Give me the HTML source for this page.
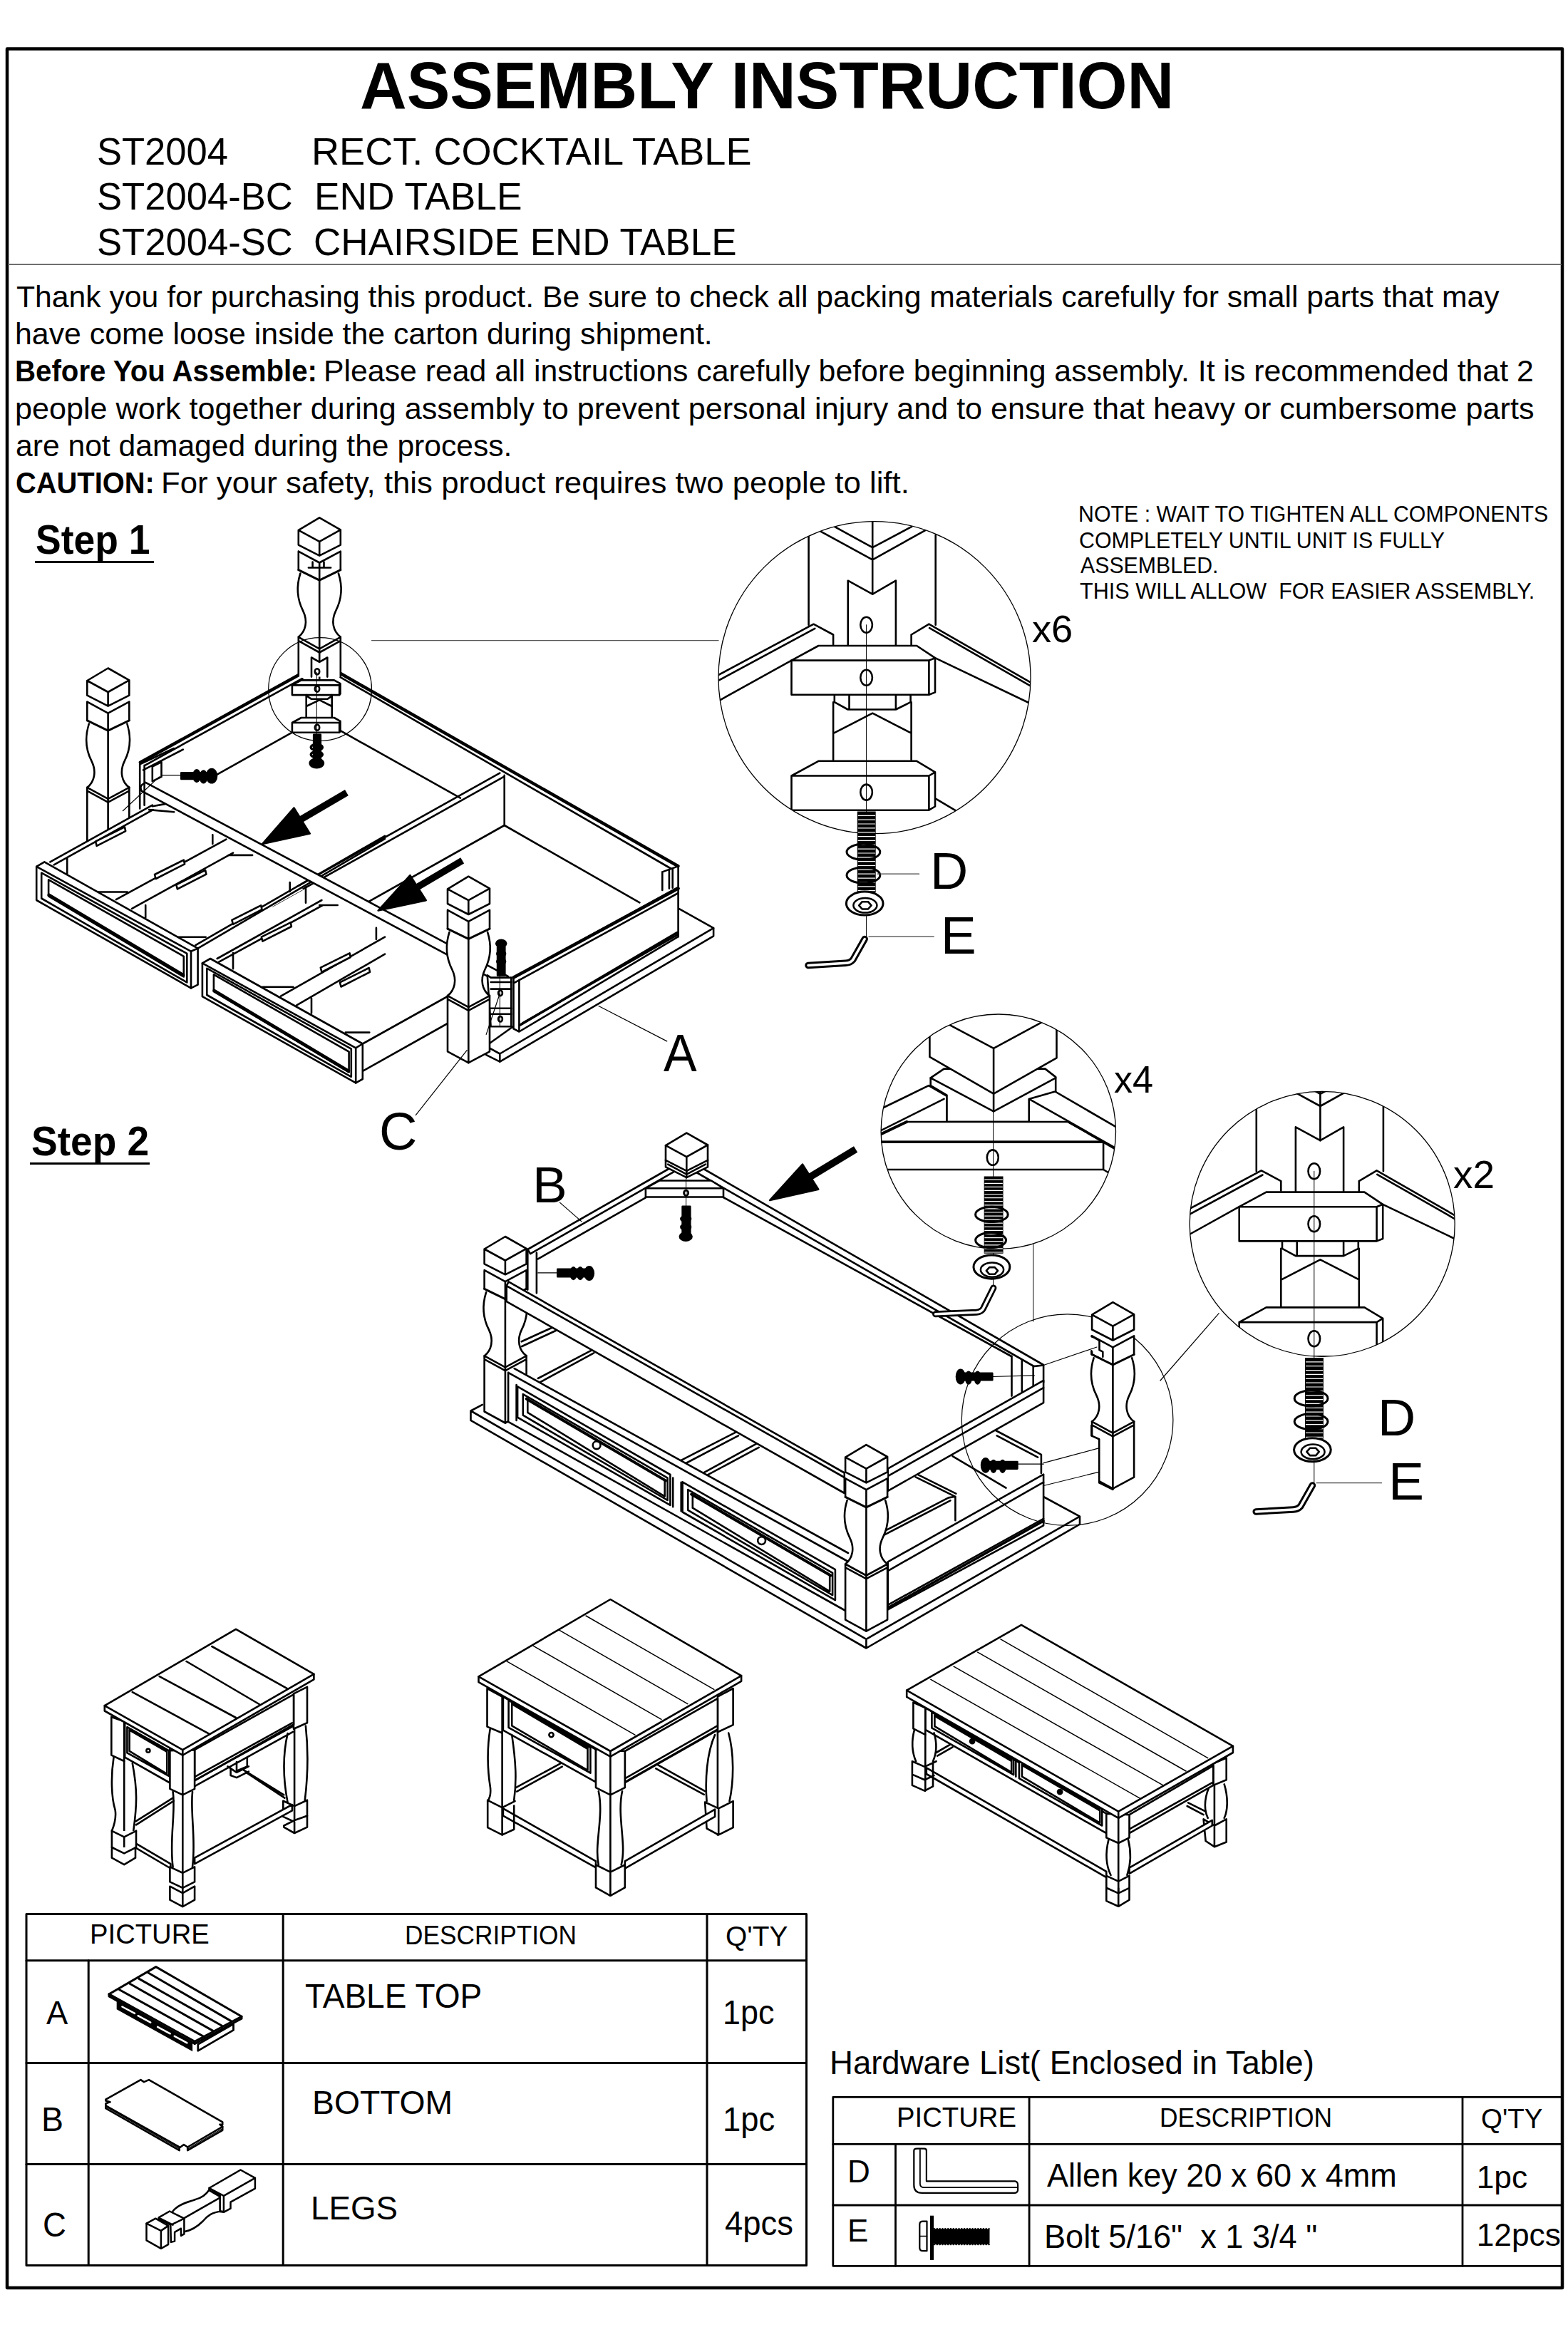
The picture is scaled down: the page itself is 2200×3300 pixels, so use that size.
<!DOCTYPE html>
<html><head><meta charset="utf-8"><style>
html,body{margin:0;padding:0;background:#fff;width:2200px;height:3300px;overflow:hidden}
.t{position:absolute;white-space:pre;font-family:"Liberation Sans",sans-serif;color:#000;transform-origin:0 0}
svg{position:absolute;left:0;top:0}
svg *{vector-effect:non-scaling-stroke}
</style></head><body>
<svg width="2200" height="3300" viewBox="0 0 2200 3300" fill="none" stroke="#000" stroke-linejoin="round" stroke-linecap="round">
<rect x="10" y="68.5" width="2182" height="3141.5" fill="none" stroke="#000" stroke-width="4.5"/>
<line x1="12" y1="371" x2="2190" y2="371" stroke="#6e6e6e" stroke-width="2"/>
<rect x="37" y="2685.5" width="1094.5" height="493.0" fill="none" stroke="#000" stroke-width="3"/>
<line x1="37" y1="2750.7" x2="1131.5" y2="2750.7" stroke="#000" stroke-width="3"/>
<line x1="37" y1="2894.5" x2="1131.5" y2="2894.5" stroke="#000" stroke-width="3"/>
<line x1="37" y1="3036.6" x2="1131.5" y2="3036.6" stroke="#000" stroke-width="3"/>
<line x1="124.2" y1="2750.7" x2="124.2" y2="3178.5" stroke="#000" stroke-width="3"/>
<line x1="397.2" y1="2685.5" x2="397.2" y2="3178.5" stroke="#000" stroke-width="3"/>
<line x1="992" y1="2685.5" x2="992" y2="3178.5" stroke="#000" stroke-width="3"/>
<rect x="1168.8" y="2942.4" width="1023.2" height="236.9000000000001" fill="none" stroke="#000" stroke-width="2.8"/>
<line x1="1168.8" y1="3008.4" x2="2192" y2="3008.4" stroke="#000" stroke-width="2.8"/>
<line x1="1168.8" y1="3094.0" x2="2192" y2="3094.0" stroke="#000" stroke-width="2.8"/>
<line x1="1256.5" y1="3008.4" x2="1256.5" y2="3179.3" stroke="#000" stroke-width="2.8"/>
<line x1="1444.1" y1="2942.4" x2="1444.1" y2="3179.3" stroke="#000" stroke-width="2.8"/>
<line x1="2052" y1="2942.4" x2="2052" y2="3179.3" stroke="#000" stroke-width="2.8"/>
<g stroke-width="2.6">
<clipPath id="c1"><circle cx="1227" cy="950.7" r="219"/></clipPath>
<g clip-path="url(#c1)">
<path d="M1134.6,752.7 V876.7 M1312.7,751.0 V876.7 M1224.2,732.1 V833.6 M1151.9,745.8 L1224.2,785.4 L1298.2,744.1 M1170.8,738.9 L1224.2,768.2 L1279.3,738.9" />
<path d="M1189.7,906.0 V814.7 L1224.2,833.6 L1256.9,814.7 V906.0" />
<path d="M921.1,993.4 L1141.5,875.7 L1169.1,890.5 V904.2 M921.1,1001.7 L1143.3,881.9 M921.1,1031.7 L1110.5,926.6 M1303.4,875.7 L1541.0,1012.0 M1304.1,881.2 L1541.0,1016.9 M1278.6,890.5 L1303.4,875.7 M1278.6,890.5 V906.0 M1312.0,923.2 L1541.0,1032.7" />
<path d="M1110.5,926.6 H1303.4 V974.8 H1110.5 Z M1110.5,926.6 L1148.4,906.0 H1286.2 L1312.0,923.2 L1303.4,926.6 M1312.0,923.2 V971.4 L1303.4,974.8" fill="#fff"/>
<path d="M1170.8,976.6 V985.2 L1189.7,995.5 H1256.9 L1277.6,985.2 V976.6 M1191.5,976.6 V995.5 M1256.9,976.6 V995.5" />
<path d="M1169.1,985.2 V1066.1 M1278.6,985.2 V1066.1 M1170.8,1028.2 L1224.2,1000.7 L1277.6,1028.2" />
<path d="M1110.5,1088.5 H1303.4 V1136.7 H1110.5 Z M1110.5,1088.5 L1148.4,1067.8 H1286.2 L1312.0,1083.3 L1303.4,1088.5 M1312.0,1083.3 V1131.5 L1303.4,1136.7 M1313.7,1121.2 L1368.8,1153.9" fill="#fff"/>
<ellipse cx="1215.6" cy="876.7" rx="8.3" ry="11.0" />
<ellipse cx="1215.6" cy="950.7" rx="8.3" ry="11.0" />
<ellipse cx="1215.6" cy="1111.6" rx="8.3" ry="11.0" />
</g>
<circle cx="1227" cy="950.7" r="219" stroke-width="1.3"/>
<path d="M1215.6,876.7 V1314.1" stroke-width="1"/>
<path d="M1202.8,1138.4 H1228.7 V1252.1 H1202.8 Z" fill="#000" stroke="none"/>
<path d="M1204.2,1144.3 H1227.6 M1204.2,1150.1 H1227.6 M1204.2,1156.0 H1227.6 M1204.2,1161.8 H1227.6 M1204.2,1167.7 H1227.6 M1204.2,1173.6 H1227.6 M1204.2,1179.4 H1227.6 M1204.2,1185.3 H1227.6 M1204.2,1191.1 H1227.6 M1204.2,1197.0 H1227.6 M1204.2,1202.8 H1227.6 M1204.2,1208.7 H1227.6 M1204.2,1214.5 H1227.6 M1204.2,1220.4 H1227.6 M1204.2,1226.2 H1227.6 M1204.2,1232.1 H1227.6 M1204.2,1238.0 H1227.6 M1204.2,1243.8 H1227.6 M1204.2,1249.7 H1227.6" stroke="#fff" stroke-width="1.2"/>
<ellipse cx="1211.4" cy="1195.3" rx="23.4" ry="11.0" stroke-width="3"/>
<ellipse cx="1211.4" cy="1228.0" rx="23.4" ry="11.0" stroke-width="3"/>
<ellipse cx="1213.2" cy="1267.6" rx="25.8" ry="16.5" fill="#fff" stroke-width="3"/>
<ellipse cx="1213.9" cy="1270.3" rx="16.5" ry="10.3" stroke-width="2.5"/>
<path d="M1205.2,1270.3 L1209.7,1265.2 H1218.0 L1222.5,1270.3 L1218.0,1275.5 H1209.7 Z" />
<path d="M1231.1,1226.2 H1289.6 M1219.0,1314.1 H1310.3" stroke-width="1.3" stroke="#444"/>
<path d="M1213.2,1317.5 L1196.6,1346.8 Q1193.2,1350.9 1186.3,1351.3 L1134.0,1354.4" stroke-width="9.5"/>
<path d="M1213.2,1317.5 L1196.6,1346.8 Q1193.2,1350.9 1186.3,1351.3 L1134.0,1354.4" stroke="#fff" stroke-width="3.5"/>
<clipPath id="c2"><circle cx="1855.2" cy="1717.3000000000002" r="186"/></clipPath>
<g clip-path="url(#c2)">
<path d="M1762.8,1519.3 V1643.3 M1940.9,1517.6 V1643.3 M1852.4,1498.7 V1600.2 M1780.1,1512.4 L1852.4,1552.0 L1926.4,1510.7 M1799.0,1505.5 L1852.4,1534.8 L1907.5,1505.5" />
<path d="M1817.9,1672.6 V1581.3 L1852.4,1600.2 L1885.1,1581.3 V1672.6" />
<path d="M1549.3,1760.0 L1769.7,1642.3 L1797.3,1657.1 V1670.8 M1549.3,1768.3 L1771.5,1648.5 M1549.3,1798.3 L1738.7,1693.2 M1931.6,1642.3 L2169.2,1778.6 M1932.3,1647.8 L2169.2,1783.5 M1906.8,1657.1 L1931.6,1642.3 M1906.8,1657.1 V1672.6 M1940.2,1689.8 L2169.2,1799.3" />
<path d="M1738.7,1693.2 H1931.6 V1741.4 H1738.7 Z M1738.7,1693.2 L1776.6,1672.6 H1914.4 L1940.2,1689.8 L1931.6,1693.2 M1940.2,1689.8 V1738.0 L1931.6,1741.4" fill="#fff"/>
<path d="M1799.0,1743.2 V1751.8 L1817.9,1762.1 H1885.1 L1905.8,1751.8 V1743.2 M1819.7,1743.2 V1762.1 M1885.1,1743.2 V1762.1" />
<path d="M1797.3,1751.8 V1832.7 M1906.8,1751.8 V1832.7 M1799.0,1794.8 L1852.4,1767.3 L1905.8,1794.8" />
<path d="M1738.7,1855.1 H1931.6 V1903.3 H1738.7 Z M1738.7,1855.1 L1776.6,1834.4 H1914.4 L1940.2,1849.9 L1931.6,1855.1 M1940.2,1849.9 V1898.1 L1931.6,1903.3 M1941.9,1887.8 L1997.0,1920.5" fill="#fff"/>
<ellipse cx="1843.8" cy="1643.3" rx="8.3" ry="11.0" />
<ellipse cx="1843.8" cy="1717.3" rx="8.3" ry="11.0" />
<ellipse cx="1843.8" cy="1878.2" rx="8.3" ry="11.0" />
</g>
<circle cx="1855.2" cy="1717.3000000000002" r="186" stroke-width="1.3"/>
<path d="M1843.8,1643.3 V2080.7" stroke-width="1"/>
<path d="M1831.0,1905.0 H1856.9 V2018.7 H1831.0 Z" fill="#000" stroke="none"/>
<path d="M1832.4,1910.9 H1855.8 M1832.4,1916.7 H1855.8 M1832.4,1922.6 H1855.8 M1832.4,1928.4 H1855.8 M1832.4,1934.3 H1855.8 M1832.4,1940.2 H1855.8 M1832.4,1946.0 H1855.8 M1832.4,1951.9 H1855.8 M1832.4,1957.7 H1855.8 M1832.4,1963.6 H1855.8 M1832.4,1969.4 H1855.8 M1832.4,1975.3 H1855.8 M1832.4,1981.1 H1855.8 M1832.4,1987.0 H1855.8 M1832.4,1992.8 H1855.8 M1832.4,1998.7 H1855.8 M1832.4,2004.6 H1855.8 M1832.4,2010.4 H1855.8 M1832.4,2016.3 H1855.8" stroke="#fff" stroke-width="1.2"/>
<ellipse cx="1839.6" cy="1961.9" rx="23.4" ry="11.0" stroke-width="3"/>
<ellipse cx="1839.6" cy="1994.6" rx="23.4" ry="11.0" stroke-width="3"/>
<ellipse cx="1841.4" cy="2034.2" rx="25.8" ry="16.5" fill="#fff" stroke-width="3"/>
<ellipse cx="1842.1" cy="2036.9" rx="16.5" ry="10.3" stroke-width="2.5"/>
<path d="M1833.4,2036.9 L1837.9,2031.8 H1846.2 L1850.7,2036.9 L1846.2,2042.1 H1837.9 Z" />
<path d="M1847.2,2080.7 H1938.5" stroke-width="1.3" stroke="#444"/>
<path d="M1841.4,2084.1 L1824.8,2113.4 Q1821.4,2117.5 1814.5,2117.9 L1762.2,2121.0" stroke-width="9.5"/>
<path d="M1841.4,2084.1 L1824.8,2113.4 Q1821.4,2117.5 1814.5,2117.9 L1762.2,2121.0" stroke="#fff" stroke-width="3.5"/>
<path d="M1710.2,1842.7 L1628,1937" stroke-width="1.2"/>
<clipPath id="c3"><circle cx="1400.8" cy="1587.7" r="164.7"/></clipPath>
<g clip-path="url(#c3)">
<path d="M1193.2,1576.7 L1303.0,1523.1 L1328.5,1537.9 V1574.0 M1193.2,1607.5 L1324.5,1541.9 M1469.1,1525.0 L1595.0,1598.1 M1443.7,1541.9 L1469.1,1525.8 M1443.7,1541.9 V1574.0 M1443.7,1541.9 L1595.0,1627.6" />
<path d="M1305.7,1512.4 L1324.5,1499.6 H1466.4 L1481.2,1511.1 V1531.2 L1443.7,1541.9 V1574.0 H1328.5 V1536.5 L1305.7,1523.1 Z" fill="#fff"/>
<path d="M1305.7,1512.4 L1394.1,1559.3 L1481.2,1512.4" />
<path d="M1304.4,1436.1 L1394.1,1387.9 L1482.5,1436.1 V1484.3 L1394.1,1534.6 L1304.4,1482.9 Z" fill="#fff"/>
<path d="M1332.5,1438.2 L1394.1,1470.9 L1461.1,1434.7 M1394.1,1470.9 V1559.3" />
<path d="M1193.2,1611.5 L1272.2,1574.0 H1498.6 L1548.1,1602.1 V1641.0 L1554.8,1645.0 M1548.1,1641.0 H1193.2 M1548.1,1602.1 H1193.2" fill="#fff"/>
<path d="M1193.2,1611.5 L1272.2,1574.0" stroke-width="4"/>
<path d="M1236.1,1602.1 H1548.1" stroke-width="3.2"/>
<path d="M1498.6,1574.0 L1568.2,1614.2" />
<ellipse cx="1392.8" cy="1624.1" rx="8.0" ry="10.7" />
</g>
<circle cx="1400.8" cy="1587.7" r="164.7" stroke-width="1.3"/>
<path d="M1393.6,1559.3 V1807.1" stroke-width="1"/>
<path d="M1380.7,1650.4 H1407.5 V1758.8 H1380.7 Z" fill="#000" stroke="none"/>
<path d="M1381.8,1655.2 H1406.4 M1381.8,1660.3 H1406.4 M1381.8,1665.4 H1406.4 M1381.8,1670.4 H1406.4 M1381.8,1675.5 H1406.4 M1381.8,1680.6 H1406.4 M1381.8,1685.7 H1406.4 M1381.8,1690.8 H1406.4 M1381.8,1695.9 H1406.4 M1381.8,1701.0 H1406.4 M1381.8,1706.1 H1406.4 M1381.8,1711.2 H1406.4 M1381.8,1716.2 H1406.4 M1381.8,1721.3 H1406.4 M1381.8,1726.4 H1406.4 M1381.8,1731.5 H1406.4 M1381.8,1736.6 H1406.4 M1381.8,1741.7 H1406.4 M1381.8,1746.8 H1406.4 M1381.8,1751.9 H1406.4 M1381.8,1757.0 H1406.4" stroke="#fff" stroke-width="1.2"/>
<ellipse cx="1391.4" cy="1703.9" rx="22.8" ry="10.7" stroke-width="3"/>
<ellipse cx="1390.1" cy="1740.1" rx="21.4" ry="10.7" stroke-width="3"/>
<ellipse cx="1391.4" cy="1777.6" rx="25.4" ry="16.6" fill="#fff" stroke-width="3"/>
<ellipse cx="1392.0" cy="1781.6" rx="16.1" ry="10.2" stroke-width="2.5"/>
<path d="M1383.9,1782.9 L1388.2,1778.1 H1395.7 L1400.0,1782.9 L1395.7,1787.8 H1388.2 Z" />
<path d="M1449.8,1745.4 V1853.9" stroke-width="1.2" stroke="#333"/>
</g>

<g stroke-width="2.6">
<path d="M163.7,2807.0 L270.1,2866.7 V2878.2 L163.7,2819.3 Z" fill="#000" stroke="none"/>
<path d="M171.4,2815.5 L189.0,2824.9" stroke="#fff" stroke-width="2.5"/>
<path d="M193.6,2828.2 L211.2,2837.7" stroke="#fff" stroke-width="2.5"/>
<path d="M221.1,2843.8 L238.7,2853.3" stroke="#fff" stroke-width="2.5"/>
<path d="M244.8,2856.8 L262.4,2866.3" stroke="#fff" stroke-width="2.5"/>
<path d="M277.8,2868.3 L327.5,2839.9 V2848.4 L277.8,2877.4 Z" fill="#fff" stroke-width="2.8"/>
<path d="M153.0,2797.9 L218.8,2759.6 L339.0,2829.2 V2832.3 L273.2,2867.5 L153.0,2800.9 Z" fill="#fff" stroke-width="3"/>
<path d="M153.0,2797.9 L273.2,2864.4 L339.0,2829.2 M273.2,2864.4 V2867.5" stroke-width="3"/>
<path d="M167.6,2791.7 L286.2,2857.6 M182.1,2783.3 L298.4,2849.1 M195.1,2776.4 L311.4,2842.2 M208.1,2768.0 L323.7,2835.4" stroke-width="3"/>
<path d="M148.4,2945.6 L197.4,2918.1 L202.0,2921.1 L208.9,2918.1 L312.2,2977.3 V2981.1 L308.4,2980.8 L312.2,2983.9 L263.2,3012.5 L257.9,3009.0 L252.5,3013.0 L148.4,2954.3 V2951.3 L154.5,2949.3 L148.4,2947.4 Z" fill="#fff" stroke-width="2.6"/>
<path d="M148.4,2954.3 V2958.2 L251.7,3017.1 V3013.0 M263.2,3012.5 V3017.1 L312.2,2988.8 V2983.9" stroke-width="2.6"/>
<path d="M149.2,2956.3 L252.0,3015.1 M263.7,3014.8 L312.2,2986.5" stroke-width="1.2"/>
<path d="M293.5,3070.0 L337.5,3044.5 L357.9,3055.9 V3070.6 L323.5,3089.7 V3098.7 L313.9,3103.8 L308.8,3103.1 V3080.8 Z" fill="#fff" stroke-width="2.5"/>
<path d="M293.5,3070.0 L313.9,3080.8 L357.9,3055.9 M313.9,3080.8 V3103.8 M308.8,3080.8 V3103.1 M293.5,3070.0 V3073.2 L308.8,3082.1" stroke-width="2.5"/>
<path d="M242.5,3102.5 C251.4,3091.0 269.3,3088.5 274.4,3085.9 C284.6,3083.4 289.7,3078.3 293.5,3072.5 M258.4,3131.2 C269.3,3129.3 279.5,3121.6 284.6,3116.5 C291.0,3108.9 297.3,3103.8 311.4,3102.5 M258.4,3112.1 L308.8,3083.4" stroke-width="2.5"/>
<path d="M222.7,3111.4 L238.0,3102.5 L258.4,3112.7 V3134.4 L254.0,3136.9 V3126.7 L245.1,3131.8 V3144.6 L239.9,3145.9 L239.3,3121.6 L222.7,3113.3 Z" fill="#fff" stroke-width="2.5"/>
<path d="M242.5,3120.4 L258.4,3112.7 M224.6,3112.7 L242.5,3121.6" stroke-width="2.5"/>
<path d="M205.5,3119.7 L218.3,3112.7 L236.1,3122.9 V3149.1 L225.9,3154.8 L205.5,3143.3 Z" fill="#fff" stroke-width="2.5"/>
<path d="M205.5,3119.7 L225.9,3129.9 L236.1,3122.9 M225.9,3129.9 V3154.8" stroke-width="2.5"/>
<path d="M1282.3,3017.8 Q1282.3,3014.7 1286.5,3014.7 H1296.7 Q1299.9,3014.7 1299.9,3017.8 V3060.3 H1424.2 Q1428.1,3060.9 1428.1,3065.7 V3073.0 Q1427.4,3076.8 1423.6,3076.8 H1293.5 Q1282.3,3076.8 1282.3,3065.7 Z" stroke-width="2.2"/>
<path d="M1290.9,3016.2 V3064.1 Q1290.9,3069.2 1296.7,3069.2 H1427.4" stroke-width="1.8"/>
<path d="M1290.3,3120.8 Q1290.3,3116.7 1295.1,3116.7 H1300.5 V3158.2 H1295.1 Q1290.3,3158.2 1290.3,3154.0 Z" stroke-width="2.2"/>
<path d="M1305.0,3108.7 H1310.1 V3170.9 H1305.0 Z" fill="#000" stroke="none"/>
<path d="M1309.4,3128.5 H1388.5 V3147.6 H1309.4 Z" fill="#000" stroke="none"/>
<path d="M1311.0,3127.2 L1312.9,3129.8 L1314.9,3127.2 M1314.9,3127.2 L1316.8,3129.8 L1318.7,3127.2 M1318.7,3127.2 L1320.6,3129.8 L1322.5,3127.2 M1322.5,3127.2 L1324.4,3129.8 L1326.3,3127.2 M1326.3,3127.2 L1328.3,3129.8 L1330.2,3127.2 M1330.2,3127.2 L1332.1,3129.8 L1334.0,3127.2 M1334.0,3127.2 L1335.9,3129.8 L1337.8,3127.2 M1337.8,3127.2 L1339.7,3129.8 L1341.6,3127.2 M1341.6,3127.2 L1343.6,3129.8 L1345.5,3127.2 M1345.5,3127.2 L1347.4,3129.8 L1349.3,3127.2 M1349.3,3127.2 L1351.2,3129.8 L1353.1,3127.2 M1353.1,3127.2 L1355.0,3129.8 L1357.0,3127.2 M1357.0,3127.2 L1358.9,3129.8 L1360.8,3127.2 M1360.8,3127.2 L1362.7,3129.8 L1364.6,3127.2 M1364.6,3127.2 L1366.5,3129.8 L1368.4,3127.2 M1368.4,3127.2 L1370.3,3129.8 L1372.3,3127.2 M1372.3,3127.2 L1374.2,3129.8 L1376.1,3127.2 M1376.1,3127.2 L1378.0,3129.8 L1379.9,3127.2 M1379.9,3127.2 L1381.8,3129.8 L1383.7,3127.2 M1383.7,3127.2 L1385.7,3129.8 L1387.6,3127.2" stroke-width="2.5"/>
<path d="M1311.0,3148.9 L1312.9,3146.4 L1314.9,3148.9 M1314.9,3148.9 L1316.8,3146.4 L1318.7,3148.9 M1318.7,3148.9 L1320.6,3146.4 L1322.5,3148.9 M1322.5,3148.9 L1324.4,3146.4 L1326.3,3148.9 M1326.3,3148.9 L1328.3,3146.4 L1330.2,3148.9 M1330.2,3148.9 L1332.1,3146.4 L1334.0,3148.9 M1334.0,3148.9 L1335.9,3146.4 L1337.8,3148.9 M1337.8,3148.9 L1339.7,3146.4 L1341.6,3148.9 M1341.6,3148.9 L1343.6,3146.4 L1345.5,3148.9 M1345.5,3148.9 L1347.4,3146.4 L1349.3,3148.9 M1349.3,3148.9 L1351.2,3146.4 L1353.1,3148.9 M1353.1,3148.9 L1355.0,3146.4 L1357.0,3148.9 M1357.0,3148.9 L1358.9,3146.4 L1360.8,3148.9 M1360.8,3148.9 L1362.7,3146.4 L1364.6,3148.9 M1364.6,3148.9 L1366.5,3146.4 L1368.4,3148.9 M1368.4,3148.9 L1370.3,3146.4 L1372.3,3148.9 M1372.3,3148.9 L1374.2,3146.4 L1376.1,3148.9 M1376.1,3148.9 L1378.0,3146.4 L1379.9,3148.9 M1379.9,3148.9 L1381.8,3146.4 L1383.7,3148.9 M1383.7,3148.9 L1385.7,3146.4 L1387.6,3148.9" stroke-width="2.5"/>
<path d="M1290.3,3137.4 H1300.5" stroke-width="1.5"/>
</g>

<g stroke-width="2.6">
<path d="M951.6,1274.4 L1001.1,1302.1 V1313.3 L701.3,1489.6 L682.2,1480.1 V1467.3 Z" fill="#fff"/>
<path d="M1001.1,1302.1 L701.3,1478.5 V1489.6 M701.3,1478.5 L683.8,1468.9" />
<path d="M840.0,1411.5 L935.7,1460.9" stroke-width="1.2"/>
<path d="M424.2,944.2 L196.9,1069.8" stroke-width="4.5"/>
<path d="M428.4,949.6 L204.2,1073.3" />
<path d="M409.9,1027.7 L304.7,1086.7" />
<path d="M477.5,944.8 L951.4,1215.2" stroke-width="4.5"/>
<path d="M477.5,950.2 L943.7,1220.0" />
<path d="M477.5,1025.2 L645.9,1119.6" />
<path d="M707.7,1158.0 L897.4,1266.4" />
<path d="M929.3,1223.4 L951.6,1215.4 V1314.2 M929.3,1223.4 V1248.9 M938.9,1220.2 V1246.6 M943.7,1218.6 V1245.7" fill="#fff"/>
<path d="M707.7,1087.8 V1158.0 M701.3,1084.6 L382.4,1263.2 M707.7,1089.4 L382.4,1271.2 M707.7,1158.0 L503.6,1272.8" />
<path d="M122.3,955.0 L151.6,937.5 L181.3,954.4 V1010.8 L178.4,1015.6 C183.5,1031.5 183.5,1050.7 174.6,1068.2 C167.6,1082.6 170.7,1096.9 181.3,1104.9 V1179.2 L151.6,1195.1 L122.3,1179.2 V1104.9 C132.5,1096.9 135.7,1082.6 128.6,1068.2 C119.7,1050.7 119.7,1031.5 124.8,1015.6 L122.3,1010.8 Z" fill="#fff" stroke="none"/>
<path d="M122.3,955.0 L151.6,937.5 L181.3,954.4 L151.6,971.0 Z M122.3,955.0 V975.7 L151.6,990.7 L181.3,975.7 V954.4 M151.6,971.0 V990.7" />
<path d="M122.3,984.7 L151.6,1000.6 L181.3,984.7 V1010.8 M122.3,984.7 V1010.8 M151.6,1000.6 V1025.2" />
<path d="M122.3,1010.8 L151.6,1025.2 L181.3,1010.8" stroke-width="3"/>
<path d="M124.8,1015.6 C119.7,1031.5 119.7,1050.7 128.6,1068.2 C135.7,1082.6 132.5,1096.9 122.3,1104.9 M178.4,1015.6 C183.5,1031.5 183.5,1050.7 174.6,1068.2 C167.6,1082.6 170.7,1096.9 181.3,1104.9 M151.6,1025.2 V1195.1" />
<path d="M122.3,1104.9 L151.6,1120.8 L181.3,1104.9 M122.3,1109.7 L151.6,1125.6 L181.3,1109.7 M122.3,1104.9 V1179.2 L151.6,1195.1 L181.3,1179.2 V1104.9" />
<path d="M70.3,1209.4 L213.8,1129.7 L425.8,1247.7 L277.6,1330.6 Z" fill="#fff" stroke="none"/>
<path d="M70.3,1209.4 L213.8,1129.7 M75.7,1213.3 L214.7,1136.1 M94.2,1203.1 V1225.4" />
<path d="M277.6,1330.6 L540.0,1176.9 M274.4,1326.1 L540.0,1172.8" />
<path d="M162.8,1262.1 L317.4,1177.6 M185.1,1274.8 L327.0,1196.7 M204.2,1270.0 V1287.6 M298.3,1171.2 V1183.9 M320.6,1199.9 H354.1 M137.3,1251.5 H178.7 M248.9,1314.7 H288.7 M406.7,1238.1 V1250.9" />
<path d="M134.1,1180.7 L174.9,1160.3 L176.2,1166.1 L135.7,1186.8 Z" fill="#fff"/>
<path d="M217.0,1227.0 L257.8,1206.6 L259.1,1212.3 L218.6,1233.0 Z" fill="#fff"/>
<path d="M247.3,1241.3 L288.1,1220.9 L289.4,1226.7 L248.9,1247.4 Z" fill="#fff"/>
<path d="M325.4,1290.8 L366.2,1270.3 L367.5,1276.1 L327.0,1296.8 Z" fill="#fff"/>
<path d="M304.7,1345.0 L451.4,1263.0 L645.9,1368.9 L508.8,1464.5 Z" fill="#fff" stroke="none"/>
<path d="M304.7,1345.0 L451.4,1263.0 M307.2,1349.7 L452.9,1270.0 M327.0,1337.0 V1359.3 M368.4,1384.8 H411.5 M394.0,1397.6 L540.0,1314.7 M416.3,1410.3 L540.0,1338.6 M437.0,1400.8 V1421.5 M484.8,1448.6 H518.3 M429.0,1244.5 V1266.8 M448.2,1270.0 H473.7 M527.9,1301.9 V1317.9" />
<path d="M508.8,1464.5 L645.9,1388.0 M508.8,1502.8 L639.5,1429.5" />
<path d="M366.8,1314.7 L407.7,1294.3 L408.9,1300.0 L368.4,1320.7 Z" fill="#fff"/>
<path d="M449.8,1357.7 L490.6,1337.3 L491.8,1343.0 L451.4,1363.8 Z" fill="#fff"/>
<path d="M476.9,1378.4 L517.7,1358.0 L519.0,1363.8 L478.5,1384.5 Z" fill="#fff"/>
<path d="M51.2,1215.8 L62.3,1209.4 L277.6,1330.6 V1381.6 L268.0,1386.4 L51.2,1263.0 Z" fill="#fff"/>
<path d="M51.2,1215.8 L268.0,1334.8 V1386.4 M268.0,1334.8 L277.6,1330.6" />
<path d="M58.2,1224.7 L262.3,1337.9 V1378.4 L58.2,1260.5 Z M68.1,1234.3 L257.8,1341.8 V1370.5 L68.1,1257.3 Z" />
<path d="M68.7,1255.7 L257.2,1368.2" stroke-width="4.5"/>
<path d="M283.9,1351.3 L295.1,1345.0 L508.8,1464.5 V1514.0 L499.2,1519.4 L283.9,1398.2 Z" fill="#fff"/>
<path d="M283.9,1351.3 L499.2,1470.3 V1519.4 M499.2,1470.3 L508.8,1464.5" />
<path d="M290.3,1358.7 L492.8,1471.6 V1510.8 L290.3,1396.0 Z M299.9,1367.3 L489.6,1475.7 V1504.4 L299.9,1391.2 Z" />
<path d="M300.5,1389.9 L489.0,1502.8" stroke-width="4.5"/>
<path d="M204.2,1097.8 L712.8,1369.8 L708.0,1382.6 L198.8,1109.9 Q195.6,1104.2 199.4,1101.0 Z" fill="#fff"/>
<path d="M720.5,1371.6 L950.1,1245.7 L951.6,1247.9 V1314.2 L728.4,1447.5 L720.5,1443.4 Z" fill="#fff"/>
<path d="M720.5,1371.6 L951.6,1246.6" stroke-width="4.5"/>
<path d="M722.1,1378.6 L951.6,1253.0 M728.4,1374.8 V1446.6 M733.2,1435.4 L951.6,1311.0" />
<path d="M730.0,1438.0 L950.1,1308.5" stroke-width="3.5"/>
<path d="M683.8,1368.4 L688.6,1371.6 H717.3 V1440.2 H688.6 Z" fill="#fff"/>
<path d="M688.6,1378.0 H717.3 M688.6,1387.6 H717.3 M688.6,1414.7 H717.3 M688.6,1422.7 H717.3" />
<ellipse cx="702.0" cy="1393.3" rx="2.9" ry="3.8" />
<ellipse cx="702.0" cy="1429.7" rx="2.9" ry="3.8" />
<path d="M701.3,1368.4 V1438.6" stroke-width="1"/>
<path d="M196.2,1072.3 V1134.5 M202.6,1073.9 V1129.7 M196.2,1072.3 L244.1,1050.0 M201.0,1080.3 L256.8,1051.6 M213.8,1075.5 L226.5,1069.1 V1089.9 L213.8,1096.2 Z M209.0,1136.1 L244.1,1139.3 M213.8,1131.3 L231.3,1128.1" />
<path d="M172.3,1137.7 L223.4,1089.9 M226.5,1087.6 H253.6" stroke-width="1.2"/>
<path d="M254.3,1084.4 H295.1 V1093.0 H254.3 Z" fill="#000"/>
<ellipse cx="297.0" cy="1088.6" rx="7.0" ry="9.6" fill="#000"/>
<ellipse cx="276.0" cy="1088.6" rx="4.5" ry="8.3" fill="#000"/>
<ellipse cx="285.5" cy="1089.9" rx="4.5" ry="8.3" fill="#000"/>
<path d="M418.8,743.9 L448.2,726.4 L477.8,743.3 V799.7 L474.9,804.5 C480.1,820.4 480.1,839.6 471.1,857.1 C464.1,871.5 467.3,885.8 477.8,893.8 V948.0 L448.2,963.9 L418.8,948.0 V893.8 C429.0,885.8 432.2,871.5 425.2,857.1 C416.3,839.6 416.3,820.4 421.4,804.5 L418.8,799.7 Z" fill="#fff" stroke="none"/>
<path d="M418.8,743.9 L448.2,726.4 L477.8,743.3 L448.2,759.9 Z M418.8,743.9 V764.6 L448.2,779.6 L477.8,764.6 V743.3 M448.2,759.9 V779.6" />
<path d="M418.8,773.6 L448.2,789.5 L477.8,773.6 V799.7 M418.8,773.6 V799.7 M448.2,789.5 V814.1" />
<path d="M418.8,799.7 L448.2,814.1 L477.8,799.7" stroke-width="3"/>
<path d="M421.4,804.5 C416.3,820.4 416.3,839.6 425.2,857.1 C432.2,871.5 429.0,885.8 418.8,893.8 M474.9,804.5 C480.1,820.4 480.1,839.6 471.1,857.1 C464.1,871.5 467.3,885.8 477.8,893.8 M448.2,814.1 V963.9" />
<path d="M418.8,893.8 L448.2,910.4 L477.8,893.8 M418.8,899.2 L448.2,915.5 L477.8,899.2 M418.8,893.8 V948.0 M477.8,893.8 V948.0" />
<path d="M432.9,796.5 H464.1 M438.6,788.6 V796.5 M454.5,788.6 V796.5" />
<path d="M437.0,949.6 V922.5 L448.2,928.9 L459.3,922.5 V949.6" fill="#fff"/>
<ellipse cx="445.0" cy="942.3" rx="3.2" ry="4.1" />
<path d="M409.9,961.4 H476.2 V975.1 H409.9 Z M409.9,961.4 L422.7,954.4 H468.9 L477.5,959.2 L476.2,961.4 M477.5,959.2 V973.5 L476.2,975.1" fill="#fff"/>
<ellipse cx="445.0" cy="966.5" rx="3.2" ry="4.1" />
<path d="M429.7,975.1 V1007.0 M465.7,975.1 V1007.0 M430.6,976.7 L437.0,980.8 H459.3 L465.7,976.7 M429.7,991.0 L448.2,982.1 L465.7,991.0" />
<path d="M409.9,1014.0 H476.2 V1027.7 H409.9 Z M409.9,1014.0 L422.7,1007.0 H468.9 L477.5,1011.8 L476.2,1014.0 M477.5,1011.8 V1026.1 L476.2,1027.7" fill="#fff"/>
<ellipse cx="445.0" cy="1020.7" rx="3.2" ry="4.1" />
<path d="M444.3,943.2 V1030.9" stroke-width="1"/>
<path d="M440.2,1030.9 H449.8 V1067.6 H440.2 Z" fill="#000"/>
<ellipse cx="444.3" cy="1048.4" rx="8.0" ry="4.1" stroke-width="3.5"/>
<ellipse cx="444.3" cy="1058.6" rx="8.0" ry="4.1" stroke-width="3.5"/>
<ellipse cx="444.3" cy="1070.8" rx="9.6" ry="6.4" fill="#000"/>
<circle cx="449.1" cy="967.1" r="72.4" stroke-width="1.2"/>
<path d="M521.5,898.6 H1008" stroke-width="1.3" stroke="#555"/>
<path d="M628.0,1247.3 L657.3,1229.7 L687.0,1246.6 V1303.1 L684.1,1307.9 C689.2,1323.8 689.2,1342.9 680.3,1360.5 C673.3,1374.8 676.5,1389.2 687.0,1397.1 V1475.3 L657.3,1491.2 L628.0,1475.3 V1397.1 C638.2,1389.2 641.4,1374.8 634.4,1360.5 C625.4,1342.9 625.4,1323.8 630.5,1307.9 L628.0,1303.1 Z" fill="#fff" stroke="none"/>
<path d="M628.0,1247.3 L657.3,1229.7 L687.0,1246.6 L657.3,1263.2 Z M628.0,1247.3 V1268.0 L657.3,1283.0 L687.0,1268.0 V1246.6 M657.3,1263.2 V1283.0" />
<path d="M628.0,1276.9 L657.3,1292.9 L687.0,1276.9 V1303.1 M628.0,1276.9 V1303.1 M657.3,1292.9 V1317.4" />
<path d="M628.0,1303.1 L657.3,1317.4 L687.0,1303.1" stroke-width="3"/>
<path d="M630.5,1307.9 C625.4,1323.8 625.4,1342.9 634.4,1360.5 C641.4,1374.8 638.2,1389.2 628.0,1397.1 M684.1,1307.9 C689.2,1323.8 689.2,1342.9 680.3,1360.5 C673.3,1374.8 676.5,1389.2 687.0,1397.1 M657.3,1317.4 V1491.2" />
<path d="M628.0,1397.1 L657.3,1413.1 L687.0,1397.1 M628.0,1401.9 L657.3,1417.9 L687.0,1401.9 M628.0,1397.1 V1475.3 L657.3,1491.2 L687.0,1475.3 V1397.1" />
<path d="M698.1,1328.6 H708.3 V1368.4 H698.1 Z" fill="#000"/>
<ellipse cx="703.2" cy="1323.8" rx="7.0" ry="5.1" fill="#000"/>
<ellipse cx="703.2" cy="1338.2" rx="5.7" ry="3.8" stroke-width="3"/>
<ellipse cx="703.2" cy="1349.3" rx="5.7" ry="3.8" stroke-width="3"/>
<path d="M655.1,1473.7 L583.3,1564.6" stroke-width="1.2"/>
<path d="M701.3,1394.0 L682.2,1451.4" stroke-width="1.2"/>
<path d="M486.4,1112.2 L421.1,1150.4" stroke-width="9.5" stroke-linecap="butt"/>
<path d="M412.4,1133.5 L368.4,1183.9 L434.8,1169.6 Z" fill="#000"/>
<path d="M648.7,1207.4 L586.5,1244.1" stroke-width="9.5" stroke-linecap="butt"/>
<path d="M575.4,1228.1 L530.7,1277.6 L597.7,1263.2 Z" fill="#000"/>
</g>

<g stroke-width="2.6">
<path d="M660.5,1979.5 L676.8,1970.9 L1464.0,2100.0 L1515.0,2127.6 V2138.7 L1215.4,2312.5 L660.5,1992.9 Z" fill="#fff" stroke="none"/>
<path d="M676.8,1970.9 L660.5,1979.5 L1215.4,2299.8 L1515.0,2127.6 M1215.4,2299.8 V2312.5 M1464.0,2100.0 L1515.0,2127.6 V2138.7 L1215.4,2312.5 L660.5,1992.9 V1979.5" />
<path d="M731.8,1882.3 L777.8,1861.2 M731.8,1889.2 L779.7,1867.0 M754.8,1934.0 L831.3,1893.8 M758.6,1938.9 L833.2,1898.4 M955.7,2048.8 L1034.1,2008.6 M959.5,2054.5 L1036.0,2014.3 M984.4,2067.9 L1060.9,2025.8 M986.3,2072.9 L1064.7,2030.8" />
<path d="M1238.6,2149.3 L1330.8,2101.4 L1340.4,2099.8 V2133.3 M1284.6,2072.4 L1340.4,2099.8 M1287.1,2068.6 L1341.3,2095.7 M1238.6,2154.7 L1333.4,2105.3 M1336.5,2043.1 L1411.5,2087.7 M1397.1,2007.0 L1460.9,2040.8 V2067.0 M1398.7,2014.4 L1456.1,2044.7" />
<path d="M679.6,1752.5 L708.9,1735.0 L738.6,1751.9 V1808.3 L735.7,1813.1 C740.8,1829.1 740.8,1848.2 731.9,1865.7 C724.8,1880.1 728.0,1894.4 738.6,1902.4 V1980.5 L708.9,1996.5 L679.6,1980.5 V1902.4 C689.8,1894.4 693.0,1880.1 685.9,1865.7 C677.0,1848.2 677.0,1829.1 682.1,1813.1 L679.6,1808.3 Z" fill="#fff" stroke="none"/>
<path d="M679.6,1752.5 L708.9,1735.0 L738.6,1751.9 L708.9,1768.5 Z M679.6,1752.5 V1773.3 L708.9,1788.3 L738.6,1773.3 V1751.9 M708.9,1768.5 V1788.3" />
<path d="M679.6,1782.2 L708.9,1798.1 L738.6,1782.2 V1808.3 M679.6,1782.2 V1808.3 M708.9,1798.1 V1822.7" />
<path d="M679.6,1808.3 L708.9,1822.7 L738.6,1808.3" stroke-width="3"/>
<path d="M682.1,1813.1 C677.0,1829.1 677.0,1848.2 685.9,1865.7 C693.0,1880.1 689.8,1894.4 679.6,1902.4 M735.7,1813.1 C740.8,1829.1 740.8,1848.2 731.9,1865.7 C724.8,1880.1 728.0,1894.4 738.6,1902.4 M708.9,1822.7 V1996.5" />
<path d="M679.6,1902.4 L708.9,1918.4 L738.6,1902.4 M679.6,1907.2 L708.9,1923.1 L738.6,1907.2 M679.6,1902.4 V1980.5 L708.9,1996.5 L738.6,1980.5 V1902.4" />
<path d="M713.1,1925.9 L721.7,1920.2 L1190.0,2179.0 V2262.0 L713.1,1994.8 Z" fill="#fff" stroke="none"/>
<path d="M713.1,1925.9 L1190.0,2191.0 M721.7,1920.2 L1190.0,2179.0 M713.1,1925.9 V1994.8 L1190.0,2262.0 M724.6,1943.1 V1992.9" />
<path d="M726.1,1945.4 L940.4,2069.0 V2111.9 L726.1,1988.7 Z M733.8,1956.1 L936.6,2073.6 V2105.0 L733.8,1985.6 Z M740.3,1963.4 L932.7,2076.7 V2099.6 L740.3,1981.8 Z" fill="#fff"/>
<path d="M738.7,1962.7 L933.9,2077.4" stroke-width="4"/>
<circle cx="837.1" cy="2027.7" r="5.4" />
<path d="M944.2,2073.6 V2114.2 M955.7,2079.7 V2120.3" />
<path d="M957.6,2079.4 L1171.9,2202.2 V2245.1 L957.6,2121.5 Z M965.3,2090.1 L1168.1,2206.8 V2238.2 L965.3,2118.8 Z M971.8,2097.3 L1164.2,2209.8 V2232.8 L971.8,2115.7 Z" fill="#fff"/>
<path d="M970.2,2096.6 L1165.4,2210.6" stroke-width="4"/>
<circle cx="1068.6" cy="2161.6" r="5.4" />
<path d="M740.3,1753.0 L946.1,1635.5 L950.7,1641.2 L744.1,1759.1 Z" fill="#fff"/>
<path d="M754.8,1766.4 L905.9,1680.3" />
<path d="M740.3,1753.0 V1809.6 M752.9,1757.9 V1814.2" />
<path d="M975.0,1633.0 L1464.0,1915.0 L1461.0,1923.0 L972.0,1642.0 Z" fill="#fff"/>
<path d="M1015.0,1680.0 L1419.0,1903.0" />
<path d="M905.9,1667.2 L925.1,1656.5 H997.8 L1015.0,1667.2 V1679.5 H905.9 Z M905.9,1667.2 H1015.0" fill="#fff"/>
<ellipse cx="962.6" cy="1673.8" rx="3.1" ry="3.8" />
<path d="M962.6,1652.7 V1694.8" stroke-width="1"/>
<path d="M934.0,1627.2 L934.0,1637.4 L963.3,1652.1 L993.0,1637.4 V1627.2 Z" fill="#fff"/>
<path d="M937.2,1633.6 L963.3,1647.6 L989.8,1633.6 M963.3,1640.6 V1652.1" />
<path d="M934.0,1607.1 L963.3,1589.6 L993.0,1606.5 V1627.9 L963.3,1642.9 L934.0,1627.9 Z" fill="#fff"/>
<path d="M934.0,1607.1 L963.3,1623.1 L993.0,1606.5 M963.3,1623.1 V1642.9" />
<path d="M1419.5,1902.8 V1958.6 M1433.8,1909.1 V1952.2 M1449.7,1917.1 L1464.1,1915.5 V1939.4 L1449.7,1945.8 Z" fill="#fff"/>
<path d="M1464.1,1936.9 L1245.7,2060.6 L1245.7,2091.9 L1464.1,1968.1 Z" fill="#fff"/>
<path d="M1464.1,1947.1 L1245.7,2071.1" />
<path d="M713.6,1798.4 L1184.8,2066.5 L1184.8,2095.0 L710.7,1826.1 L710.7,1804.1 Z" fill="#fff"/>
<path d="M710.7,1804.1 L1184.8,2073.0" />
<path d="M1245.7,2191.4 L1464.1,2068.6 V2140.3 L1245.7,2258.3 Z" fill="#fff"/>
<path d="M1245.7,2204.1 L1464.1,2079.7 M1245.7,2251.9 L1464.1,2130.8" />
<path d="M1247.3,2255.1 L1464.1,2134.0" stroke-width="3.5"/>
<path d="M1186.1,2044.6 L1215.4,2027.1 L1245.1,2044.0 V2100.4 L1242.2,2105.2 C1247.3,2121.2 1247.3,2140.3 1238.4,2157.8 C1231.3,2172.2 1234.5,2186.5 1245.1,2194.5 V2272.6 L1215.4,2288.6 L1186.1,2272.6 V2194.5 C1196.3,2186.5 1199.5,2172.2 1192.4,2157.8 C1183.5,2140.3 1183.5,2121.2 1188.6,2105.2 L1186.1,2100.4 Z" fill="#fff" stroke="none"/>
<path d="M1186.1,2044.6 L1215.4,2027.1 L1245.1,2044.0 L1215.4,2060.6 Z M1186.1,2044.6 V2065.4 L1215.4,2080.4 L1245.1,2065.4 V2044.0 M1215.4,2060.6 V2080.4" />
<path d="M1186.1,2074.3 L1215.4,2090.2 L1245.1,2074.3 V2100.4 M1186.1,2074.3 V2100.4 M1215.4,2090.2 V2114.8" />
<path d="M1186.1,2100.4 L1215.4,2114.8 L1245.1,2100.4" stroke-width="3"/>
<path d="M1188.6,2105.2 C1183.5,2121.2 1183.5,2140.3 1192.4,2157.8 C1199.5,2172.2 1196.3,2186.5 1186.1,2194.5 M1242.2,2105.2 C1247.3,2121.2 1247.3,2140.3 1238.4,2157.8 C1231.3,2172.2 1234.5,2186.5 1245.1,2194.5 M1215.4,2114.8 V2288.6" />
<path d="M1186.1,2194.5 L1215.4,2210.5 L1245.1,2194.5 M1186.1,2199.3 L1215.4,2215.2 L1245.1,2199.3 M1186.1,2194.5 V2272.6 L1215.4,2288.6 L1245.1,2272.6 V2194.5" />
<path d="M785.4,1687.1 L816.0,1713.9" stroke-width="1.2"/>
<path d="M782.3,1780.9 H825.6 V1791.2 H782.3 Z" fill="#000"/>
<ellipse cx="826.7" cy="1786.6" rx="6.1" ry="9.2" fill="#000"/>
<ellipse cx="804.5" cy="1786.6" rx="3.8" ry="8.4" fill="#000"/>
<ellipse cx="814.1" cy="1786.6" rx="3.8" ry="8.4" fill="#000"/>
<path d="M754.8,1785.9 H782.3" stroke-width="1.2"/>
<path d="M957.6,1692.9 H968.3 V1731.1 H957.6 Z" fill="#000"/>
<ellipse cx="962.2" cy="1735.0" rx="8.4" ry="5.7" fill="#000"/>
<ellipse cx="962.2" cy="1710.1" rx="6.9" ry="3.8" fill="#000"/>
<ellipse cx="962.2" cy="1721.6" rx="6.9" ry="3.8" fill="#000"/>
<path d="M1347.7,1926.7 H1392.3 V1936.2 H1347.7 Z" fill="#000"/>
<ellipse cx="1347.7" cy="1931.5" rx="5.7" ry="9.6" fill="#000"/>
<ellipse cx="1358.9" cy="1933.1" rx="3.8" ry="8.3" fill="#000"/>
<ellipse cx="1371.6" cy="1933.1" rx="3.8" ry="8.3" fill="#000"/>
<path d="M1382.8,2051.0 H1427.4 V2060.6 H1382.8 Z" fill="#000"/>
<ellipse cx="1382.8" cy="2055.8" rx="5.7" ry="9.6" fill="#000"/>
<ellipse cx="1393.9" cy="2057.4" rx="3.8" ry="8.3" fill="#000"/>
<ellipse cx="1406.7" cy="2057.4" rx="3.8" ry="8.3" fill="#000"/>
<path d="M1392.3,1931.5 L1451.3,1929.9 M1427.4,2054.2 L1464.1,2054.2" stroke-width="1.2"/>
<path d="M1200.6,1612.5 L1137.4,1650.8" stroke-width="10" stroke-linecap="butt"/>
<path d="M1126.0,1633.6 L1080.1,1684.1 L1148.2,1668.8 Z" fill="#000"/>
<circle cx="1497.6" cy="1992.1" r="148.3" stroke-width="1.2"/>
<path d="M1532.1,1844.7 L1561.4,1827.2 L1591.1,1844.1 V1900.5 L1588.2,1905.3 C1593.3,1921.3 1593.3,1940.4 1584.4,1957.9 C1577.3,1972.3 1580.5,1986.6 1591.1,1994.6 V2072.7 L1561.4,2088.7 L1532.1,2072.7 V1994.6 C1542.3,1986.6 1545.5,1972.3 1538.4,1957.9 C1529.5,1940.4 1529.5,1921.3 1534.6,1905.3 L1532.1,1900.5 Z" fill="#fff" stroke="none"/>
<path d="M1532.1,1844.7 L1561.4,1827.2 L1591.1,1844.1 L1561.4,1860.7 Z M1532.1,1844.7 V1865.5 L1561.4,1880.5 L1591.1,1865.5 V1844.1 M1561.4,1860.7 V1880.5" />
<path d="M1532.1,1874.4 L1561.4,1890.3 L1591.1,1874.4 V1900.5 M1532.1,1874.4 V1900.5 M1561.4,1890.3 V1914.9" />
<path d="M1532.1,1900.5 L1561.4,1914.9 L1591.1,1900.5" stroke-width="3"/>
<path d="M1534.6,1905.3 C1529.5,1921.3 1529.5,1940.4 1538.4,1957.9 C1545.5,1972.3 1542.3,1986.6 1532.1,1994.6 M1588.2,1905.3 C1593.3,1921.3 1593.3,1940.4 1584.4,1957.9 C1577.3,1972.3 1580.5,1986.6 1591.1,1994.6 M1561.4,1914.9 V2088.7" />
<path d="M1532.1,1994.6 L1561.4,2010.6 L1591.1,1994.6 M1532.1,1999.4 L1561.4,2015.3 L1591.1,1999.4 M1532.1,1994.6 V2072.7 L1561.4,2088.7 L1591.1,2072.7 V1994.6" />
<path d="M1528.8,2014.4 L1541.6,2019.8 V2082.3 L1528.8,2076.6 Z" fill="#fff" stroke="none"/>
<path d="M1531.4,2000.0 V2014.4 L1542.2,2019.2 V2080.4 L1561.4,2089.9" />
<path d="M1529.5,1875.7 L1542.5,1881.4 V1894.8 L1547.3,1897.3 V1902.8 L1529.5,1894.2 Z" fill="#fff" stroke="none"/>
<path d="M1531.4,1874.7 L1542.5,1880.8 V1894.2 L1547.3,1896.7 V1903.7 M1531.4,1895.4 V1899.9 L1547.3,1907.6" />
<path d="M1464.1,1915.5 L1539.0,1890.0 M1464.1,2052.6 L1541.6,2031.9 M1464.1,2084.5 L1541.6,2065.4" stroke-width="1.2"/>
<path d="M1393.9,1807.1 L1379.6,1835.8 Q1377.0,1840.6 1370.0,1841.2 L1312.6,1843.8" stroke-width="9"/>
<path d="M1393.9,1807.1 L1379.6,1835.8 Q1377.0,1840.6 1370.0,1841.2 L1312.6,1843.8" stroke="#fff" stroke-width="3.5"/>
</g>

<g stroke-width="2.6">
<path d="M412.0,2376.3 V2425.7 L431.0,2417.3 V2366.8 Z" fill="#fff"/>
<path d="M403.6,2432.1 C397.3,2459.4 396.2,2491.0 403.6,2528.9 M428.9,2421.5 C433.1,2459.4 432.0,2491.0 427.8,2525.7 M413.1,2425.7 V2564.6" fill="#fff"/>
<path d="M397.3,2526.8 L413.1,2534.1 L431.0,2525.7 V2547.8 L413.1,2556.2 L397.3,2548.9 Z M413.1,2534.1 V2556.2" fill="#fff"/>
<path d="M398.3,2561.5 L413.1,2554.1 L431.0,2547.8 V2563.6 L413.1,2572.0 L398.3,2563.6 Z M413.1,2572.0 V2556.2" fill="#fff"/>
<path d="M340.5,2482.6 L398.3,2518.3 M344.7,2486.4 L399.4,2522.6 M191.0,2560.4 L243.6,2526.8 M191.0,2555.2 L242.6,2522.6" />
<path d="M319.4,2478.4 L332.0,2486.8 L348.9,2478.4 M323.6,2481.5 V2491.0 L332.0,2494.1 L348.9,2485.7" />
<path d="M332.0,2472.0 V2484.7 M346.8,2465.7 V2478.4 L332.0,2484.7" fill="#fff"/>
<path d="M175.2,2577.3 L239.4,2615.2 V2621.5 L175.2,2583.6 Z" fill="#fff"/>
<path d="M273.1,2606.7 L409.9,2532.0 V2540.4 L273.1,2615.2 Z" fill="#fff"/>
<path d="M273.1,2455.2 L412.0,2377.3 V2419.4 L273.1,2498.3 Z" fill="#fff"/>
<path d="M273.1,2493.1 L409.9,2417.3 M274.2,2497.3 L411.0,2422.0 M274.2,2505.7 L411.0,2429.9" />
<path d="M175.2,2415.2 L238.4,2451.0 V2501.5 L175.2,2465.7 Z" fill="#fff"/>
<path d="M178.4,2423.2 L237.3,2456.3 V2492.0 L178.4,2459.4 Z M181.6,2426.8 L234.2,2456.9 V2488.9 L181.6,2456.9 Z" fill="#fff"/>
<path d="M182.2,2427.4 L233.5,2457.3" stroke-width="3"/>
<circle cx="207.9" cy="2456.3" r="2.5" />
<path d="M156.3,2408.9 V2462.6 L174.2,2471.0 V2415.2 Z" fill="#fff"/>
<path d="M159.5,2465.7 C155.3,2493.1 156.3,2522.6 161.6,2539.4 C163.7,2552.0 159.5,2562.5 156.9,2568.9 L156.9,2592.0 L174.2,2600.4 L191.0,2592.0 V2568.9 M174.2,2471.0 V2615.2 M185.8,2474.1 C193.1,2512.0 192.1,2533.1 187.2,2568.9" fill="#fff"/>
<path d="M156.9,2568.9 L174.2,2577.3 L191.0,2568.9 M156.9,2592.0 L174.2,2600.4 L191.0,2592.0 M156.9,2594.1 V2606.7 L174.2,2616.2 L190.0,2606.7 V2594.1" fill="#fff"/>
<path d="M238.4,2456.3 V2509.9 L256.3,2518.3 L273.1,2509.9 V2455.2 Z M256.3,2461.5 V2518.3" fill="#fff"/>
<path d="M242.6,2514.1 C246.8,2543.6 237.3,2581.5 242.6,2619.4 M270.0,2514.1 C266.8,2543.6 275.2,2581.5 270.0,2619.4 M256.3,2518.3 V2674.1" fill="#fff"/>
<path d="M238.4,2619.4 L256.3,2627.8 L273.1,2619.4 V2640.4 L256.3,2648.8 L238.4,2640.4 Z M256.3,2627.8 V2648.8" fill="#fff"/>
<path d="M238.4,2646.7 L256.3,2656.2 L273.1,2646.7 V2665.7 L256.3,2675.1 L238.4,2665.7 Z M256.3,2656.2 V2675.1" fill="#fff"/>
<path d="M146.8,2393.1 L331.0,2285.8 L440.4,2348.9 V2356.3 L256.3,2462.6 L146.8,2400.5 Z" fill="#fff"/>
<path d="M146.8,2393.1 L256.3,2455.2 L440.4,2348.9 M256.3,2455.2 V2462.6" />
<path d="M185.8,2374.2 L294.2,2433.1 M223.7,2352.1 L331.0,2410.0 M261.5,2331.0 L363.6,2391.0 M297.3,2310.0 L402.5,2368.9" />
</g>

<g stroke-width="2.6">
<path d="M723.8,2508.1 L787.6,2473.6 M725.1,2513.7 L788.8,2478.7 M922.8,2476.2 L989.1,2513.2 M920.2,2481.3 L987.8,2517.8" />
<path d="M1006.9,2380.5 V2430.3 L1028.6,2420.1 V2369.0 Z" fill="#fff"/>
<path d="M1003.1,2434.1 C991.6,2459.6 989.1,2497.9 991.6,2527.2 M1022.2,2431.5 C1029.9,2459.6 1029.9,2497.9 1023.5,2527.2 M1006.9,2430.3 V2574.4" />
<path d="M989.1,2528.5 L1008.2,2537.4 L1028.6,2527.2 V2564.2 L1008.2,2574.4 L991.6,2565.5 Z M1008.2,2537.4 V2574.4" fill="#fff"/>
<path d="M705.9,2537.4 L836.0,2611.4 V2620.3 L705.9,2547.6 Z" fill="#fff"/>
<path d="M876.8,2611.4 L1003.1,2538.7 V2548.9 L876.8,2621.6 Z" fill="#fff"/>
<path d="M876.8,2457.0 L1006.9,2383.1 V2426.4 L876.8,2500.4 Z" fill="#fff"/>
<path d="M876.8,2495.3 L1005.7,2421.8 M877.3,2500.9 L1006.4,2427.7" />
<path d="M705.9,2380.5 L836.0,2454.5 V2500.4 L705.9,2427.7 Z" fill="#fff"/>
<path d="M713.6,2385.6 L828.4,2451.9 V2487.7 L713.6,2423.9 Z M718.2,2390.2 L824.5,2452.4 V2483.8 L718.2,2421.3 Z" fill="#fff"/>
<path d="M719.2,2391.2 L823.8,2453.2" stroke-width="3"/>
<circle cx="773.5" cy="2434.1" r="3.1" />
<path d="M683.5,2369.0 V2422.6 L704.6,2431.5 V2380.5 Z" fill="#fff"/>
<path d="M687.6,2426.4 C683.0,2454.5 684.2,2485.1 687.6,2505.5 C689.3,2515.7 686.8,2523.4 684.2,2527.2 M718.2,2434.1 C723.8,2472.3 725.1,2497.9 721.2,2525.9 M704.6,2431.5 V2574.4" fill="#fff"/>
<path d="M684.2,2525.9 L704.6,2536.1 L722.5,2527.2 M684.2,2525.9 V2564.2 L704.6,2574.4 L721.2,2566.7 V2533.6" />
<path d="M836.0,2454.5 V2508.1 L856.4,2518.3 L876.8,2508.1 V2457.0 Z M856.4,2464.7 V2518.3" fill="#fff"/>
<path d="M839.8,2513.2 C847.5,2548.9 833.5,2587.1 839.8,2616.5 M873.0,2513.2 C865.4,2548.9 879.4,2587.1 871.7,2616.5 M856.4,2518.3 V2659.8" fill="#fff"/>
<path d="M836.0,2616.5 L856.4,2626.7 L876.8,2616.5 V2648.4 L856.4,2659.8 L836.0,2648.4 Z M856.4,2626.7 V2659.8" fill="#fff"/>
<path d="M671.5,2352.4 L856.4,2244.0 L1040.1,2351.2 V2358.8 L856.4,2464.7 L671.5,2360.1 Z" fill="#fff"/>
<path d="M671.5,2352.4 L856.4,2457.0 L1040.1,2351.2 M856.4,2457.0 V2464.7" />
<path d="M711.0,2330.8 L890.9,2434.1 M748.0,2309.1 L927.9,2412.4 M785.0,2287.4 L964.8,2390.7 M822.0,2267.0 L1001.8,2370.3" stroke-width="1.5"/>
</g>

<g stroke-width="2.6">
<path d="M1313.6,2459.0 L1335.0,2446.7 M1315.1,2463.6 L1336.5,2451.3 M1667.1,2529.4 L1691.6,2541.6 M1665.6,2534.0 L1688.6,2546.2" />
<path d="M1702.3,2474.3 V2504.9 L1720.7,2497.2 V2466.6 Z" fill="#fff"/>
<path d="M1696.2,2508.0 C1688.6,2526.3 1690.1,2541.6 1694.7,2550.8 M1717.7,2503.4 C1723.8,2523.3 1722.2,2541.6 1717.7,2550.8 M1703.9,2504.9 V2590.6" />
<path d="M1688.6,2552.3 L1703.9,2561.5 L1720.7,2552.3 V2584.5 L1703.9,2591.2 L1691.6,2583.0 Z M1703.9,2561.5 V2591.2" fill="#fff"/>
<path d="M1299.8,2480.4 L1552.3,2625.8 V2634.1 L1299.8,2489.0 Z" fill="#fff"/>
<path d="M1584.5,2620.6 L1700.8,2553.9 V2561.5 L1584.5,2628.9 Z" fill="#fff"/>
<path d="M1584.5,2546.2 L1702.3,2477.3 V2504.9 L1584.5,2572.2 Z" fill="#fff"/>
<path d="M1585.1,2566.1 L1702.3,2500.3" />
<path d="M1298.3,2396.2 L1552.3,2544.7 V2572.2 L1298.3,2426.8 Z" fill="#fff"/>
<path d="M1307.4,2402.3 L1422.2,2468.2 V2490.2 L1307.4,2424.4 Z M1311.4,2406.3 L1419.2,2469.1 V2486.5 L1311.4,2422.2 Z M1429.9,2471.2 L1546.2,2537.0 V2561.5 L1429.9,2495.1 Z M1433.9,2475.2 L1543.2,2538.6 V2557.6 L1433.9,2492.7 Z" fill="#fff"/>
<path d="M1312.0,2407.6 L1418.6,2470.0 M1434.5,2476.4 L1542.2,2539.2" stroke-width="3.5"/>
<circle cx="1364.1" cy="2443.1" r="3.1" fill="#000"/>
<circle cx="1487.1" cy="2514.1" r="3.1" fill="#000"/>
<path d="M1425.3,2469.1 V2492.7" />
<path d="M1281.4,2388.6 V2425.3 L1298.3,2433.9 V2396.2 Z" fill="#fff"/>
<path d="M1283.0,2426.8 C1278.4,2443.7 1279.9,2459.0 1285.1,2471.2 M1310.5,2431.4 C1315.1,2446.7 1314.5,2459.0 1309.0,2471.2 M1298.3,2433.9 V2512.6" fill="#fff"/>
<path d="M1279.9,2471.2 L1297.3,2478.9 L1313.6,2471.2 M1279.9,2471.2 V2504.9 L1297.3,2512.6 L1309.0,2506.4 V2474.3 M1279.9,2489.6 L1297.3,2497.2 L1310.5,2491.1" />
<path d="M1552.3,2544.7 V2578.4 L1569.2,2586.0 L1584.5,2578.4 V2546.2 Z M1569.2,2550.8 V2586.0" fill="#fff"/>
<path d="M1555.4,2581.4 C1550.8,2599.8 1550.8,2615.1 1558.5,2631.0 M1583.0,2581.4 C1587.6,2599.8 1586.9,2615.1 1581.4,2631.0 M1569.2,2586.0 V2674.8" fill="#fff"/>
<path d="M1552.3,2631.9 L1569.2,2639.6 L1584.5,2631.9 V2665.6 L1569.2,2674.8 L1552.3,2667.1 Z M1552.3,2648.8 L1569.2,2656.4 L1584.5,2648.8 M1569.2,2639.6 V2674.8" fill="#fff"/>
<path d="M1272.2,2371.7 L1433.0,2279.9 L1729.9,2449.8 V2459.0 L1569.2,2550.8 L1272.2,2380.9 Z" fill="#fff"/>
<path d="M1272.2,2371.7 L1569.2,2541.6 L1729.9,2449.8 M1569.2,2541.6 V2550.8" />
<path d="M1305.9,2356.4 L1599.8,2523.3 M1338.1,2338.1 L1631.9,2504.9 M1371.7,2318.2 L1664.1,2485.0 M1403.9,2299.8 L1694.7,2466.6" stroke-width="1.5"/>
</g>

</svg>
<div class="t" style="left:504.6px;top:74.3px;font-size:93px;line-height:93px;font-weight:700;transform:scaleX(0.978)">ASSEMBLY INSTRUCTION</div>
<div class="t" style="left:136.0px;top:185.7px;font-size:54.4px;line-height:54.4px;transform:scaleX(0.9656)">ST2004</div>
<div class="t" style="left:136.0px;top:249.2px;font-size:54.4px;line-height:54.4px;transform:scaleX(0.9667)">ST2004-BC</div>
<div class="t" style="left:136.0px;top:312.6px;font-size:54.4px;line-height:54.4px;transform:scaleX(0.9667)">ST2004-SC</div>
<div class="t" style="left:436.5px;top:185.7px;font-size:54.4px;line-height:54.4px;transform:scaleX(0.9951)">RECT. COCKTAIL TABLE</div>
<div class="t" style="left:440.7px;top:249.2px;font-size:54.4px;line-height:54.4px;transform:scaleX(0.9808)">END TABLE</div>
<div class="t" style="left:439.8px;top:312.6px;font-size:54.4px;line-height:54.4px;transform:scaleX(0.9755)">CHAIRSIDE END TABLE</div>
<div class="t" style="left:22.6px;top:395.2px;font-size:43px;line-height:43px;transform:scaleX(0.9927)">Thank you for purchasing this product. Be sure to check all packing materials carefully for small parts that may</div>
<div class="t" style="left:20.6px;top:446.9px;font-size:43px;line-height:43px;transform:scaleX(0.9963)">have come loose inside the carton during shipment.</div>
<div class="t" style="left:20.8px;top:499.2px;font-size:43px;line-height:43px;font-weight:700;transform:scaleX(0.9354)">Before You Assemble:</div>
<div class="t" style="left:453.6px;top:499.2px;font-size:43px;line-height:43px;transform:scaleX(0.9953)">Please read all instructions carefully before beginning assembly. It is recommended that 2</div>
<div class="t" style="left:20.6px;top:551.6px;font-size:43px;line-height:43px;transform:scaleX(1.0031)">people work together during assembly to prevent personal injury and to ensure that heavy or cumbersome parts</div>
<div class="t" style="left:21.6px;top:603.6px;font-size:43px;line-height:43px;transform:scaleX(0.991)">are not damaged during the process.</div>
<div class="t" style="left:21.7px;top:656.1px;font-size:43px;line-height:43px;font-weight:700;transform:scaleX(0.927)">CAUTION:</div>
<div class="t" style="left:225.9px;top:656.1px;font-size:43px;line-height:43px;transform:scaleX(1.0176)">For your safety, this product requires two people to lift.</div>
<div class="t" style="left:1512.9px;top:705.8px;font-size:31.2px;line-height:31.2px;transform:scaleX(0.9721)">NOTE : WAIT TO TIGHTEN ALL COMPONENTS</div>
<div class="t" style="left:1513.9px;top:742.6px;font-size:31.2px;line-height:31.2px;transform:scaleX(0.9737)">COMPLETELY UNTIL UNIT IS FULLY</div>
<div class="t" style="left:1515.8px;top:778.4px;font-size:31.2px;line-height:31.2px;transform:scaleX(0.9706)">ASSEMBLED.</div>
<div class="t" style="left:1514.8px;top:814.2px;font-size:31.2px;line-height:31.2px;transform:scaleX(0.9802)">THIS WILL ALLOW  FOR EASIER ASSEMBLY.</div>
<div class="t" style="left:49.6px;top:728.2px;font-size:58px;line-height:58px;font-weight:700;transform:scaleX(0.9212)">Step 1</div>
<div class="t" style="left:43.8px;top:1571.7px;font-size:58px;line-height:58px;font-weight:700;transform:scaleX(0.9488)">Step 2</div>
<div class="t" style="left:126.2px;top:2694.3px;font-size:39.5px;line-height:39.5px;transform:scaleX(0.968)">PICTURE</div>
<div class="t" style="left:567.8px;top:2697.0px;font-size:37px;line-height:37px;transform:scaleX(0.9526)">DESCRIPTION</div>
<div class="t" style="left:1018.1px;top:2696.8px;font-size:39.7px;line-height:39.7px;transform:scaleX(0.9791)">Q'TY</div>
<div class="t" style="left:64.6px;top:2800.2px;font-size:47px;line-height:47px;transform:scaleX(0.9645)">A</div>
<div class="t" style="left:428.1px;top:2776.5px;font-size:47.2px;line-height:47.2px;transform:scaleX(0.9757)">TABLE TOP</div>
<div class="t" style="left:1014.2px;top:2799.6px;font-size:47.8px;line-height:47.8px;transform:scaleX(0.9403)">1pc</div>
<div class="t" style="left:58.0px;top:2949.5px;font-size:47.4px;line-height:47.4px;transform:scaleX(0.98)">B</div>
<div class="t" style="left:437.6px;top:2926.1px;font-size:47px;line-height:47px;transform:scaleX(0.9849)">BOTTOM</div>
<div class="t" style="left:1014.2px;top:2950.1px;font-size:47.4px;line-height:47.4px;transform:scaleX(0.9577)">1pc</div>
<div class="t" style="left:59.7px;top:3097.7px;font-size:47.4px;line-height:47.4px;transform:scaleX(0.96)">C</div>
<div class="t" style="left:435.9px;top:3074.4px;font-size:47px;line-height:47px;transform:scaleX(0.9731)">LEGS</div>
<div class="t" style="left:1017.1px;top:3096.4px;font-size:48px;line-height:48px;transform:scaleX(0.9465)">4pcs</div>
<div class="t" style="left:1163.6px;top:2870.5px;font-size:46.7px;line-height:46.7px;transform:scaleX(0.9751)">Hardware List( Enclosed in Table)</div>
<div class="t" style="left:1258.1px;top:2951.4px;font-size:39px;line-height:39px;transform:scaleX(0.9814)">PICTURE</div>
<div class="t" style="left:1627.1px;top:2953.2px;font-size:37.8px;line-height:37.8px;transform:scaleX(0.9369)">DESCRIPTION</div>
<div class="t" style="left:2078.3px;top:2953.0px;font-size:39px;line-height:39px;transform:scaleX(0.9881)">Q'TY</div>
<div class="t" style="left:1189.0px;top:3025.3px;font-size:44px;line-height:44px">D</div>
<div class="t" style="left:1468.9px;top:3029.1px;font-size:46px;line-height:46px;transform:scaleX(0.9795)">Allen key 20 x 60 x 4mm</div>
<div class="t" style="left:2071.7px;top:3033.0px;font-size:44.3px;line-height:44.3px">1pc</div>
<div class="t" style="left:1189.0px;top:3108.2px;font-size:44px;line-height:44px">E</div>
<div class="t" style="left:1465.1px;top:3114.5px;font-size:46px;line-height:46px;transform:scaleX(0.981)">Bolt 5/16"  x 1 3/4 "</div>
<div class="t" style="left:2071.7px;top:3114.3px;font-size:44.3px;line-height:44.3px">12pcs</div>
<div class="t" style="left:1447.5px;top:854.9px;font-size:54px;line-height:54px;transform:scaleX(1.0037)">x6</div>
<div class="t" style="left:1304.9px;top:1185.2px;font-size:73px;line-height:73px;transform:scaleX(1.0093)">D</div>
<div class="t" style="left:1319.8px;top:1274.7px;font-size:75px;line-height:75px">E</div>
<div class="t" style="left:2038.5px;top:1621.0px;font-size:55px;line-height:55px;transform:scaleX(0.9981)">x2</div>
<div class="t" style="left:1933.1px;top:1951.8px;font-size:73px;line-height:73px;transform:scaleX(1.0093)">D</div>
<div class="t" style="left:1948.0px;top:2041.3px;font-size:75px;line-height:75px">E</div>
<div class="t" style="left:1563.2px;top:1486.8px;font-size:54px;line-height:54px;transform:scaleX(0.9667)">x4</div>
<div class="t" style="left:930.9px;top:1441.4px;font-size:74px;line-height:74px;transform:scaleX(0.9449)">A</div>
<div class="t" style="left:531.8px;top:1551.4px;font-size:74px;line-height:74px;transform:scaleX(0.9978)">C</div>
<div class="t" style="left:746.7px;top:1628.1px;font-size:70.6px;line-height:70.6px;transform:scaleX(1.0351)">B</div>

<div style="position:absolute;left:48.7px;top:787px;width:167.8px;height:3.4px;background:#000"></div>
<div style="position:absolute;left:41.9px;top:1631px;width:168px;height:3.2px;background:#000"></div>

</body></html>
